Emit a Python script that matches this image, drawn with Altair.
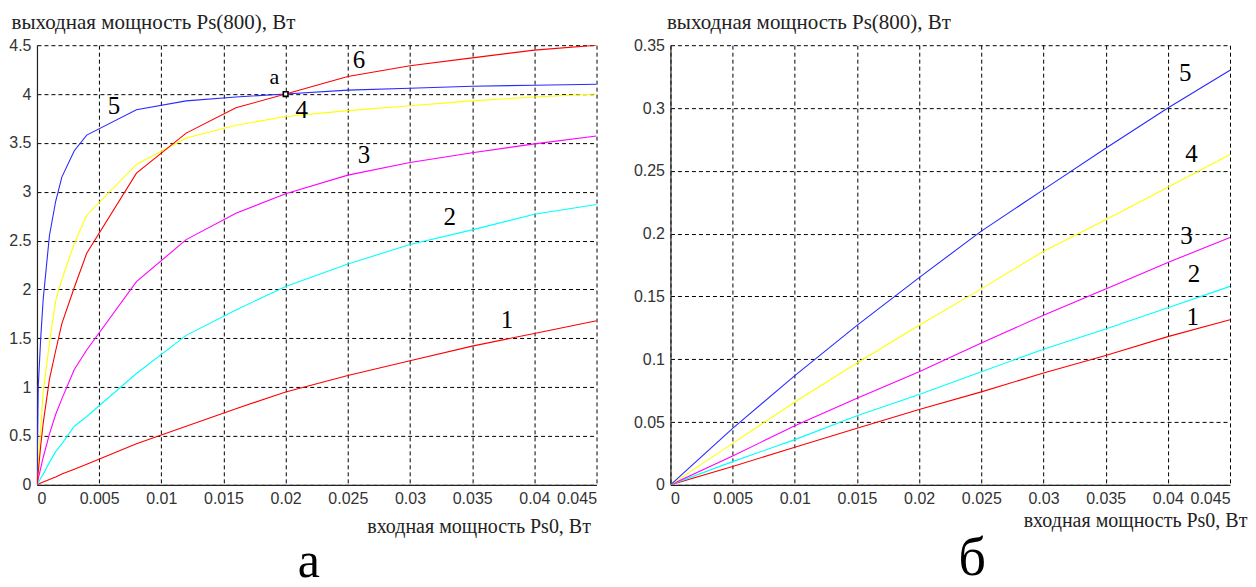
import altair as alt
import pandas as pd

# ---------------- panel "а" ----------------
left_x = [0, 0.0001, 0.0003, 0.0005, 0.001, 0.0015, 0.002, 0.003, 0.004,
          0.008, 0.012, 0.016, 0.02, 0.025, 0.03, 0.035, 0.04, 0.045]
left_curve1 = [0, 0.006, 0.018, 0.03, 0.055, 0.08, 0.11, 0.16, 0.21,
               0.42, 0.60, 0.78, 0.95, 1.12, 1.27, 1.42, 1.55, 1.68]
left_curve2 = [0, 0.02, 0.07, 0.11, 0.23, 0.34, 0.42, 0.60, 0.70,
               1.14, 1.53, 1.79, 2.03, 2.26, 2.46, 2.61, 2.77, 2.87]
left_curve3 = [0, 0.06, 0.17, 0.28, 0.52, 0.72, 0.88, 1.18, 1.38,
               2.08, 2.51, 2.78, 2.98, 3.17, 3.30, 3.40, 3.49, 3.57]
left_curve4 = [0, 0.2, 0.58, 0.95, 1.45, 1.88, 2.10, 2.47, 2.76,
               3.28, 3.55, 3.68, 3.77, 3.83, 3.88, 3.93, 3.97, 4.00]
left_curve5 = [0, 1.0, 1.5, 1.9, 2.55, 2.9, 3.15, 3.42, 3.58,
               3.84, 3.93, 3.97, 4.00, 4.04, 4.06, 4.08, 4.09, 4.10]
left_curve6 = [0, 0.13, 0.4, 0.63, 1.08, 1.37, 1.65, 2.02, 2.37,
               3.19, 3.60, 3.86, 4.00, 4.18, 4.29, 4.37, 4.45, 4.50]

left_label_text = ["1", "2", "3", "4", "5", "6"]
left_label_x = [0.0378, 0.0332, 0.0263, 0.0213, 0.0062, 0.0259]
left_label_y = [1.69, 2.74, 3.38, 3.84, 3.88, 4.35]

point_a_x = [0.02]
point_a_y = [4.0]
point_a_label_x = [0.0191]
point_a_label_y = [4.17]

left_y_ticks = [0, 0.5, 1, 1.5, 2, 2.5, 3, 3.5, 4, 4.5]

# ---------------- panel "б" ----------------
right_x = [0, 0.005, 0.01, 0.015, 0.02, 0.025, 0.03, 0.035, 0.04, 0.045]
right_curve1 = [0, 0.0146, 0.030, 0.045, 0.060, 0.074, 0.089, 0.103, 0.118, 0.1315]
right_curve2 = [0, 0.0185, 0.036, 0.055, 0.072, 0.090, 0.108, 0.124, 0.141, 0.158]
right_curve3 = [0, 0.023, 0.047, 0.069, 0.090, 0.113, 0.135, 0.156, 0.177, 0.197]
right_curve4 = [0, 0.033, 0.066, 0.097, 0.127, 0.156, 0.186, 0.211, 0.237, 0.263]
right_curve5 = [0, 0.045, 0.087, 0.127, 0.165, 0.202, 0.235, 0.268, 0.300, 0.330]

right_label_text = ["1", "2", "3", "4", "5"]
right_label_x = [0.0420, 0.0421, 0.0415, 0.0419, 0.0414]
right_label_y = [0.134, 0.168, 0.1984, 0.2637, 0.328]

right_y_ticks = [0, 0.05, 0.1, 0.15, 0.2, 0.25, 0.3, 0.35]
x_ticks = [0, 0.005, 0.01, 0.015, 0.02, 0.025, 0.03, 0.035, 0.04, 0.045]

series_names = ["1", "2", "3", "4", "5", "6"]
series_colors = ["#ff0000", "#00ffff", "#ff00ff", "#ffff00", "#2a2aff", "#ff0000"]

y_title = "выходная мощность Ps(800), Вт"
x_title = "входная мощность Ps0, Вт"

SERIF = "Liberation Serif"
SANS = "Liberation Sans"


def long_frame(xs, curves):
    rows = []
    for name, ys in curves:
        for xv, yv in zip(xs, ys):
            rows.append({"x": xv, "y": yv, "s": name})
    return pd.DataFrame(rows)


left_df = long_frame(left_x, [("1", left_curve1), ("2", left_curve2), ("3", left_curve3),
                              ("4", left_curve4), ("5", left_curve5), ("6", left_curve6)])
right_df = long_frame(right_x, [("1", right_curve1), ("2", right_curve2), ("3", right_curve3),
                                ("4", right_curve4), ("5", right_curve5)])

left_labels = pd.DataFrame({"x": left_label_x, "y": left_label_y, "t": left_label_text})
right_labels = pd.DataFrame({"x": right_label_x, "y": right_label_y, "t": right_label_text})
pa = pd.DataFrame({"x": point_a_x, "y": point_a_y})
pa_label = pd.DataFrame({"x": point_a_label_x, "y": point_a_label_y, "t": ["a"]})

color_scale = alt.Scale(domain=series_names, range=series_colors)

axis_style = dict(
    grid=True, gridColor="black", gridDash=[4, 3], gridWidth=1, gridOpacity=1,
    domainColor="#222222", domainWidth=1.2, ticks=False, labelPadding=6,
    labelFont=SANS, labelFontSize=16, labelColor="#333333",
    titleFont=SERIF, titleFontWeight="normal", titleColor="#222222",
)


def axes(ydomain, yticks, ytitle_x, xtitle_x, xtitle_y):
    xenc = alt.X("x:Q",
                 scale=alt.Scale(domain=[0, 0.045], nice=False, zero=False),
                 axis=alt.Axis(values=x_ticks, format="~g", title=x_title,
                               titleAlign="left", titleX=xtitle_x, titleY=xtitle_y,
                               titleBaseline="middle", titleFontSize=20, **axis_style))
    yenc = alt.Y("y:Q",
                 scale=alt.Scale(domain=ydomain, nice=False, zero=False),
                 axis=alt.Axis(values=yticks, format="~g", title=y_title,
                               titleAngle=0, titleAlign="left", titleX=ytitle_x,
                               titleY=-23, titleBaseline="middle", titleFontSize=21,
                               **axis_style))
    return xenc, yenc


# left panel
lx, ly = axes([0, 4.5], left_y_ticks, -26, 330, 42)
left_lines = alt.Chart(left_df).mark_line(strokeWidth=1.1, clip=True).encode(
    x=lx, y=ly,
    color=alt.Color("s:N", scale=color_scale, legend=None),
    detail="s:N",
)
left_text = alt.Chart(left_labels).mark_text(font=SERIF, fontSize=25, color="black",
                                             align="center", baseline="middle").encode(
    x="x:Q", y="y:Q", text="t:N")
left_point = alt.Chart(pa).mark_square(size=22, fill="white", stroke="black",
                                       strokeWidth=1.6, opacity=1).encode(x="x:Q", y="y:Q")
left_point_text = alt.Chart(pa_label).mark_text(font=SERIF, fontSize=22, color="black",
                                                align="center", baseline="middle").encode(
    x="x:Q", y="y:Q", text="t:N")

left_chart = alt.layer(left_lines, left_text, left_point, left_point_text).properties(
    width=560, height=440,
    title=alt.TitleParams(text="а", orient="bottom", font=SERIF, fontSize=50,
                          fontWeight="normal", color="black", anchor="middle",
                          dx=-8, offset=0),
)

# right panel
rx, ry = axes([0, 0.35], right_y_ticks, -4, 353, 36)
right_lines = alt.Chart(right_df).mark_line(strokeWidth=1.1, clip=True).encode(
    x=rx, y=ry,
    color=alt.Color("s:N", scale=color_scale, legend=None),
    detail="s:N",
)
right_text = alt.Chart(right_labels).mark_text(font=SERIF, fontSize=25, color="black",
                                               align="center", baseline="middle").encode(
    x="x:Q", y="y:Q", text="t:N")

right_chart = alt.layer(right_lines, right_text).properties(
    width=560, height=440,
    title=alt.TitleParams(text="б", orient="bottom", font=SERIF, fontSize=54,
                          fontWeight="normal", color="black", anchor="middle",
                          dx=22, offset=1),
)

chart = alt.hconcat(left_chart, right_chart, spacing=74, bounds="flush").resolve_scale(
    x="independent", y="independent", color="shared"
).properties(
    padding={"left": 0, "top": 3, "right": 0, "bottom": 0},
    background="white",
).configure_view(
    stroke=None
)

chart.save("out.html", embed_options={"renderer": "svg", "actions": False})
